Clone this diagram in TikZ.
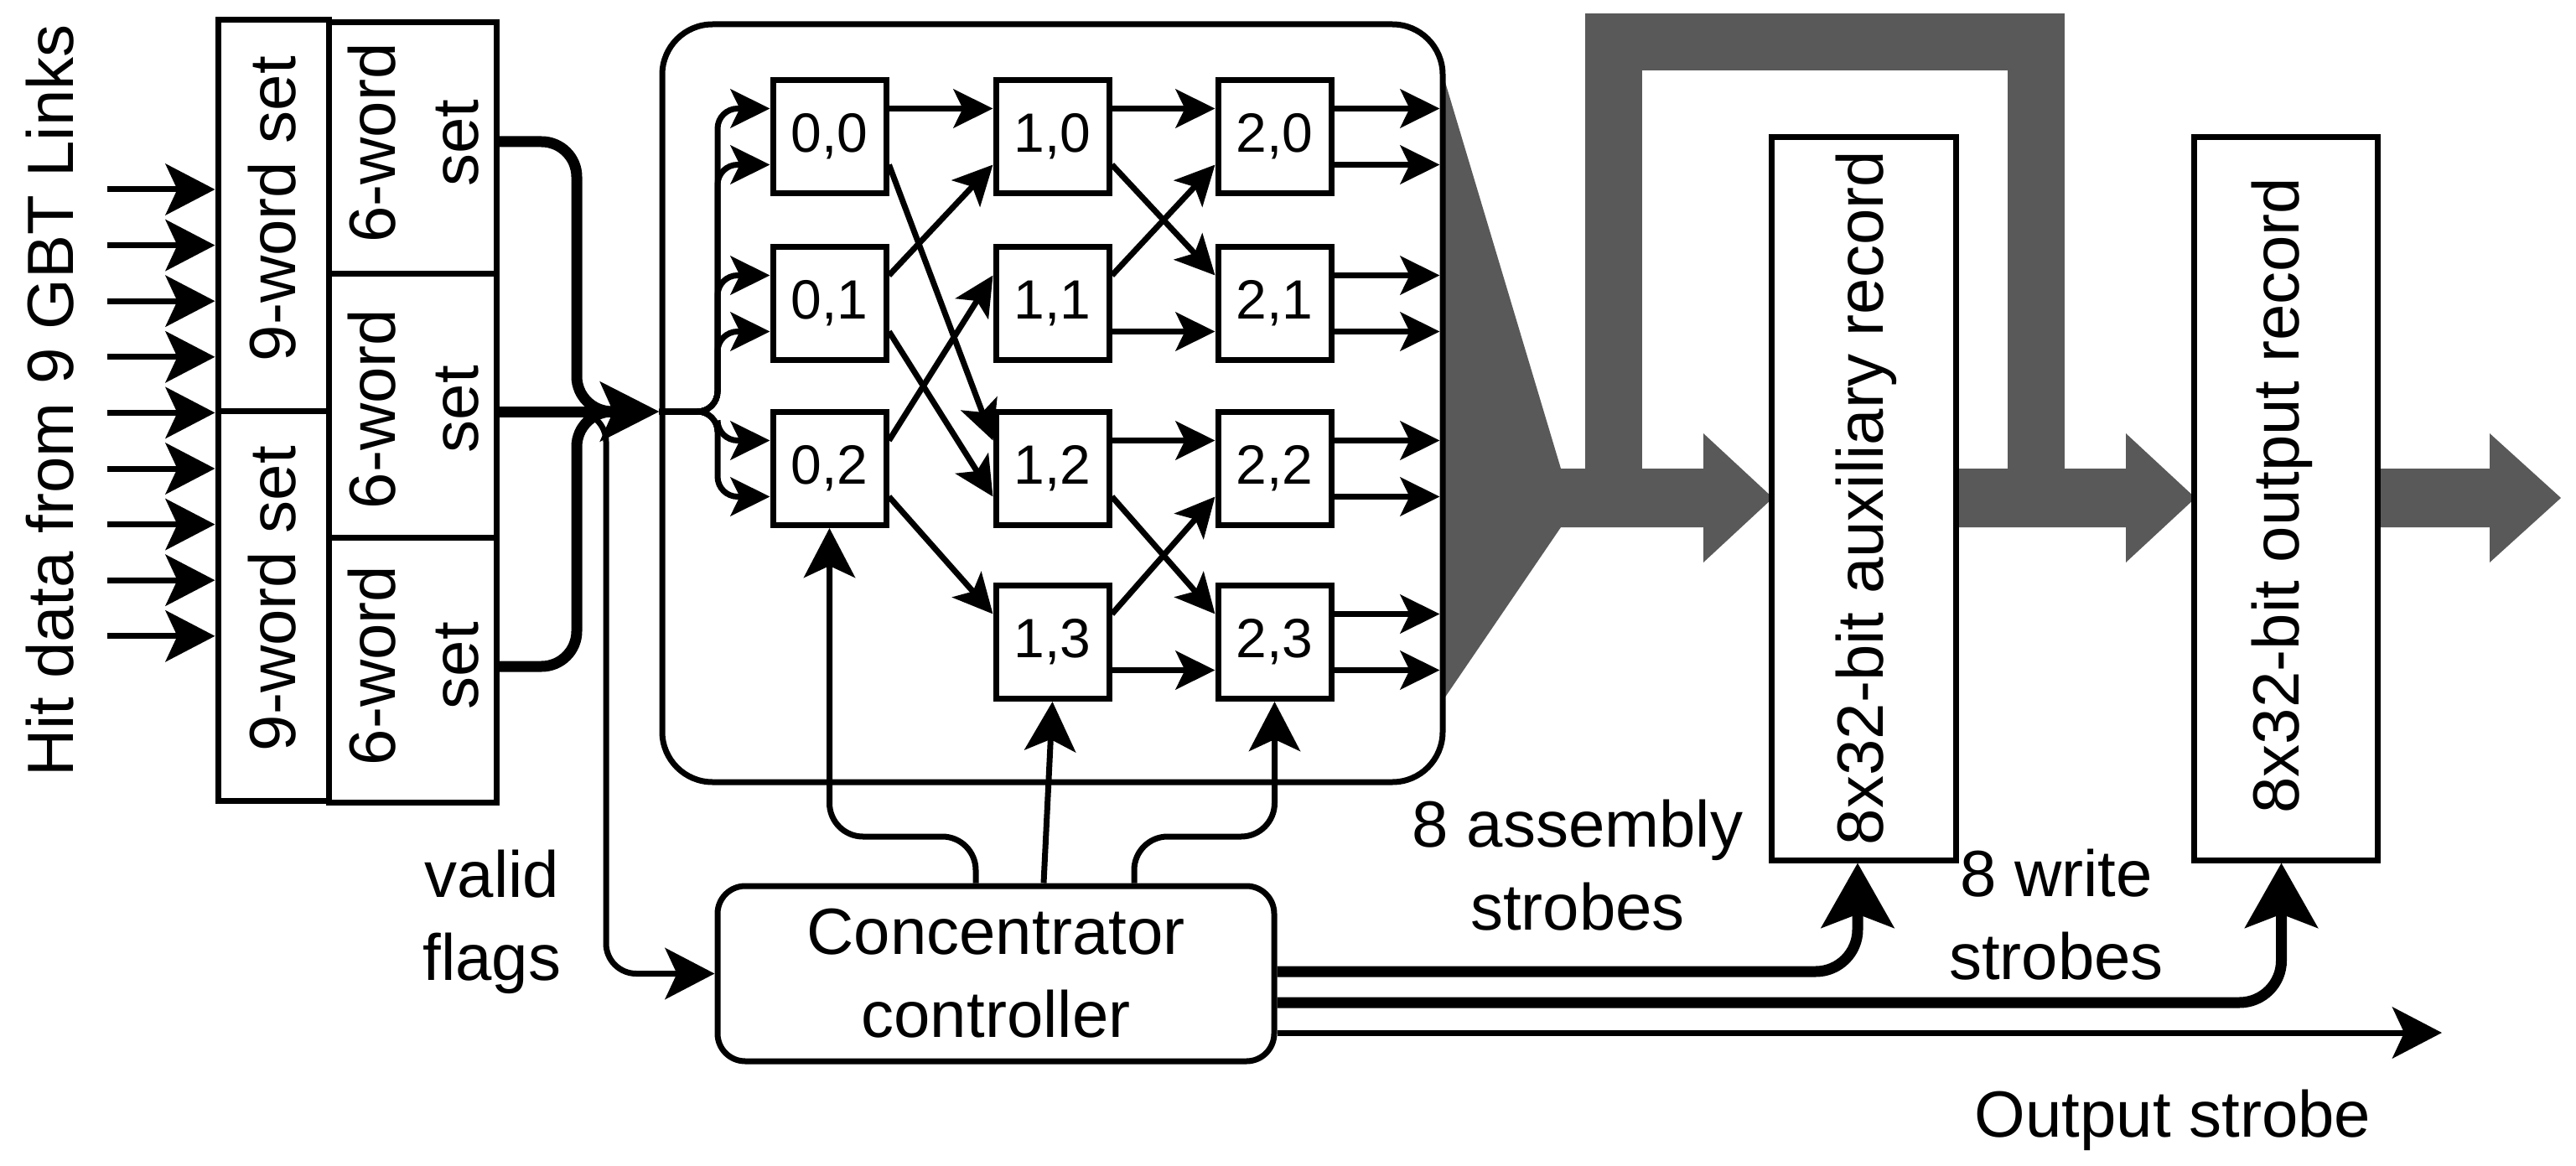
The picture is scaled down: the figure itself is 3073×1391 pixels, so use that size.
\documentclass[tikz,border=0pt]{standalone}
\usepackage{fontspec}
\setmainfont{Liberation Sans}
\usetikzlibrary{arrows.meta,calc}
\definecolor{grayfill}{RGB}{89,89,89}
\begin{document}
\begin{tikzpicture}[x=1pt,y=-1pt,
  ln/.style={line width=7pt},
  thk/.style={line width=13pt},
  bx/.style={draw,line width=7pt,fill=white,inner sep=0pt},
  fbig/.style={font=\fontsize{78pt}{99pt}\selectfont},
  fsmall/.style={font=\fontsize{66pt}{78pt}\selectfont},
  tipS/.tip={Stealth[length=47pt,width=46pt,inset=11pt]},
  tipM/.tip={Stealth[length=59pt,width=61pt,inset=14pt]},
  tipL/.tip={Stealth[length=70pt,width=70pt,inset=15pt]},
  tipB/.tip={Stealth[length=77pt,width=86pt,inset=16pt]},
]
\fill[white] (0,0) rectangle (3073,1391);
\useasboundingbox (0,0) rectangle (3073,1391);

% ---- grey data path ----
\fill[grayfill] (1721,88) -- (1862,559) -- (2032,559) -- (2032,517) -- (2115,594)
  -- (2032,671) -- (2032,629) -- (1862,629) -- (1721,836) -- cycle;
\draw[grayfill,line width=68pt] (1925,594) -- (1925,50) -- (2429,50) -- (2429,594);
\fill[grayfill] (2333,559) -- (2536,559) -- (2536,517) -- (2619,594) -- (2536,671)
  -- (2536,629) -- (2333,629) -- cycle;
\fill[grayfill] (2836,559) -- (2970,559) -- (2970,517) -- (3055,594) -- (2970,671)
  -- (2970,629) -- (2836,629) -- cycle;

% ---- input sets ----
\node[fbig,rotate=90,anchor=base] (hit) at (87,478) {Hit data from 9 GBT Links};
\node[bx,minimum width=132pt,minimum height=466pt] (w9a) at (326,257) {};
\node[bx,minimum width=132pt,minimum height=465pt] (w9b) at (326,722.5) {};
\node[bx,minimum width=200pt,minimum height=299pt] (w6a) at (492,176.5) {};
\node[bx,minimum width=200pt,minimum height=315pt] (w6b) at (492,483.5) {};
\node[bx,minimum width=200pt,minimum height=316pt] (w6c) at (492,799) {};
\node[fbig,rotate=90,anchor=base] (t9a) at (352,249) {9-word set};
\node[fbig,rotate=90,anchor=base] (t9b) at (352,714) {9-word set};
\node[fbig,rotate=90,align=center,inner sep=0pt] (t6a) at (493.5,170.5) {6-word\\set};
\node[fbig,rotate=90,align=center,inner sep=0pt] (t6b) at (493.5,488) {6-word\\set};
\node[fbig,rotate=90,align=center,inner sep=0pt] (t6c) at (493.5,794) {6-word\\set};

\foreach \i in {0,...,8} {
  \coordinate (in\i) at (127.5,{226+66.6*\i});
  \draw[ln,-{tipM}] (in\i) -- (w9a.west |- in\i);
}

% ---- concentrator network ----
\node[draw,ln,rounded corners=60pt,minimum width=931pt,minimum height=904pt,inner sep=0pt] (net) at (1255.5,481) {};
\foreach \cc/\rr/\cx/\cy in {0/0/989.5/163,0/1/989.5/362,0/2/989.5/559,
  1/0/1255.5/163,1/1/1255.5/362,1/2/1255.5/559,1/3/1255.5/766,
  2/0/1520.5/163,2/1/1520.5/362,2/2/1520.5/559,2/3/1520.5/766} {
  \node[bx,fsmall,minimum size=135pt] (n\cc\rr) at (\cx,\cy) {\cc,\rr};
}
\foreach \n in {n00,n01,n02,n10,n11,n12,n13,n20,n21,n22,n23} {
  \coordinate (\n-eu) at ($(\n.east)+(0,-33.5)$);
  \coordinate (\n-el) at ($(\n.east)+(0,33.5)$);
  \coordinate (\n-wu) at ($(\n.west)+(0,-33.5)$);
  \coordinate (\n-wl) at ($(\n.west)+(0,33.5)$);
}
\foreach \p in {n00-wu,n00-wl,n01-wu,n01-wl,n02-wu,n02-wl} {
  \draw[ln,-{tipS},rounded corners=24pt] (net.west |- 0,491) -- (856,491) |- (\p);
}
\foreach \a/\b in {n00-eu/n10-wu,n00-el/n12-wu,n01-eu/n10-wl,n01-el/n12-wl,
  n02-eu/n11-wu,n02-el/n13-wu,n10-eu/n20-wu,n10-el/n21-wu,n11-eu/n20-wl,
  n11-el/n21-wl,n12-eu/n22-wu,n12-el/n23-wu,n13-eu/n22-wl,n13-el/n23-wl} {
  \draw[ln,-{tipS}] (\a) -- (\b);
}
\foreach \p in {n20-eu,n20-el,n21-eu,n21-el,n22-eu,n22-el,n23-eu,n23-el} {
  \draw[ln,-{tipS}] (\p) -- ($(net.east |- \p)+(-7,0)$);
}

% ---- bus from 6-word sets ----
\draw[thk,rounded corners=42pt] (w6a.east |- 0,169) -| (688,491) -- (740,491);
\draw[thk,rounded corners=42pt] (w6c.east |- 0,795) -| (688,491) -- (740,491);
\draw[thk,-{tipL}] (w6b.east |- 0,491) -- (net.west |- 0,491);

% ---- controller ----
\node[bx,rounded corners=33pt,minimum width=664pt,minimum height=209pt,fbig,align=center] (conc) at (1188,1161.5) {Concentrator\\controller};
\coordinate (vj) at (683,491);
\draw[ln,-{tipM},rounded corners=36pt] (vj) -- (723,491) -- (723,1161.5) -- (conc.west);
\draw[ln,-{tipM},rounded corners=40pt] (conc.north -| 1164,0) |- (n02.south |- 0,998) -- (n02.south);
\draw[ln,-{tipM}] (conc.north -| 1245,0) -- (n13.south);
\draw[ln,-{tipM},rounded corners=40pt] (conc.north -| 1353,0) |- (n23.south |- 0,998) -- (n23.south);

% ---- records ----
\node[bx,minimum width=220pt,minimum height=862pt] (aux) at (2223,595) {};
\node[fbig,rotate=90] (auxt) at (2226.5,594) {8x32-bit auxiliary record};
\node[bx,minimum width=219pt,minimum height=862pt] (out) at (2726.5,595) {};
\node[fbig,rotate=90] (outt) at (2722.5,591) {8x32-bit output record};

\draw[thk,-{tipB},rounded corners=50pt] (conc.east |- 0,1159) -| ([xshift=-7pt]aux.south);
\draw[thk,-{tipB},rounded corners=50pt] (conc.east |- 0,1196) -| ([xshift=-5pt]out.south);
\coordinate (ostr) at (2913,1232);
\draw[ln,-{tipM}] (conc.east |- 0,1232) -- (ostr);

% ---- labels ----
\node[fbig,align=center,inner sep=0pt] (lvalid) at (587,1100) {valid\\flags};
\node[fbig,align=center,inner sep=0pt] (lasm) at (1882,1032.5) {8 assembly\\strobes};
\node[fbig,align=center,inner sep=0pt] (lwr) at (2453,1091) {8 write\\strobes};
\node[fbig,anchor=base] (lout) at (2592,1356) {Output strobe};
\end{tikzpicture}
\end{document}
